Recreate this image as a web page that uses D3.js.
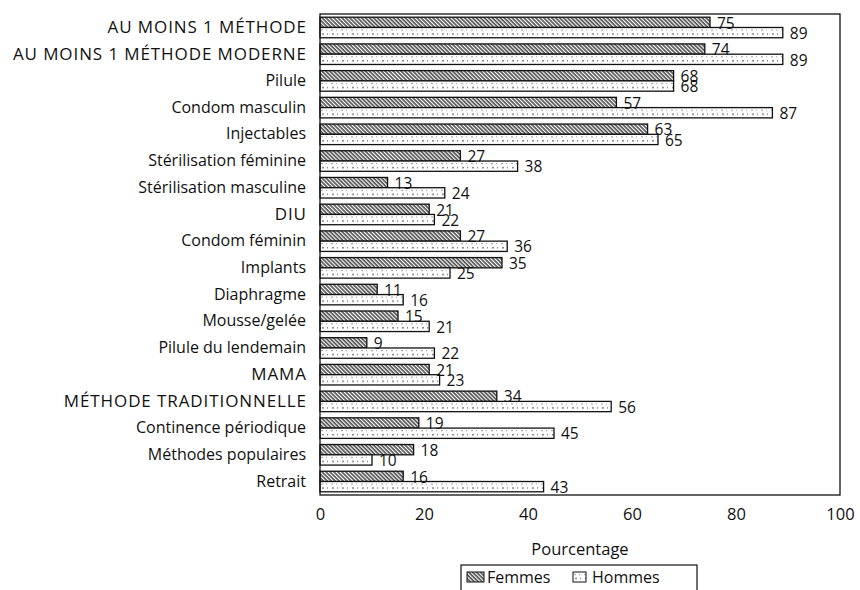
<!DOCTYPE html>
<meta charset="utf-8">
<style>
body { margin: 0; background: #fff; }
text { font-family: "Open Sans", sans-serif; fill: #111; }
</style>
<body>
<script src="https://d3js.org/d3.v7.min.js"></script>
<script>

// data
var categories = ["AU MOINS 1 MÉTHODE", "AU MOINS 1 MÉTHODE MODERNE", "Pilule", "Condom masculin",
  "Injectables", "Stérilisation féminine", "Stérilisation masculine", "DIU", "Condom féminin",
  "Implants", "Diaphragme", "Mousse/gelée", "Pilule du lendemain", "MAMA",
  "MÉTHODE TRADITIONNELLE", "Continence périodique", "Méthodes populaires", "Retrait"];
var femmes = [75, 74, 68, 57, 63, 27, 13, 21, 27, 35, 11, 15, 9, 21, 34, 19, 18, 16];
var hommes = [89, 89, 68, 87, 65, 38, 24, 22, 36, 25, 16, 21, 22, 23, 56, 45, 10, 43];
var series = ["Femmes", "Hommes"];
var xTicks = [0, 20, 40, 60, 80, 100];

var margin = {top: 14, right: 20, bottom: 95, left: 320},
    width = 860 - margin.left - margin.right,
    height = 590 - margin.top - margin.bottom;

var svg = d3.select("body").append("svg")
    .attr("width", 860)
    .attr("height", 590);

// fill patterns
var defs = svg.append("defs");
var hatch = defs.append("pattern")
    .attr("id", "hatch")
    .attr("patternUnits", "userSpaceOnUse")
    .attr("width", 2.8).attr("height", 2.8)
    .attr("patternTransform", "rotate(-45)");
hatch.append("rect").attr("width", 2.8).attr("height", 2.8).attr("fill", "#fff");
hatch.append("line").attr("x1", 1).attr("y1", 0).attr("x2", 1).attr("y2", 2.8)
    .attr("stroke", "#222").attr("stroke-width", 1.3);

var dots = defs.append("pattern")
    .attr("id", "dots")
    .attr("patternUnits", "userSpaceOnUse")
    .attr("width", 10).attr("height", 10.4);
dots.append("rect").attr("width", 10).attr("height", 10.4).attr("fill", "#fff");
dots.append("rect").attr("x", 1).attr("y", 2).attr("width", 2).attr("height", 1).attr("fill", "#999");
dots.append("rect").attr("x", 6).attr("y", 2).attr("width", 1).attr("height", 1).attr("fill", "#999");
dots.append("rect").attr("x", 2).attr("y", 6).attr("width", 2).attr("height", 1).attr("fill", "#444");
dots.append("rect").attr("x", 7).attr("y", 6).attr("width", 1).attr("height", 1).attr("fill", "#444");

var fills = {Femmes: "url(#hatch)", Hommes: "url(#dots)"};

var g = svg.append("g")
    .attr("transform", "translate(" + margin.left + "," + margin.top + ")");

var x = d3.scaleLinear().domain([0, 100]).range([0, width]);
var y = d3.scaleBand().domain(categories).range([0, height]).paddingInner(0.23).paddingOuter(0.12);
var y1 = d3.scaleBand().domain(series).range([0, y.bandwidth()]);

var rows = categories.map(function(c, i) {
  return {cat: c, values: [{s: "Femmes", v: femmes[i]}, {s: "Hommes", v: hommes[i]}]};
});

var grp = g.selectAll(".cat")
    .data(rows)
  .enter().append("g")
    .attr("class", "cat")
    .attr("transform", function(d) { return "translate(0," + y(d.cat) + ")"; });

grp.selectAll("rect")
    .data(function(d) { return d.values; })
  .enter().append("rect")
    .attr("x", 0)
    .attr("y", function(d) { return y1(d.s); })
    .attr("width", function(d) { return x(d.v); })
    .attr("height", y1.bandwidth())
    .attr("fill", function(d) { return fills[d.s]; })
    .attr("stroke", "#111")
    .attr("stroke-width", 1.3);

grp.selectAll(".val")
    .data(function(d) { return d.values; })
  .enter().append("text")
    .attr("class", "val")
    .attr("x", function(d) { return x(d.v) + 7; })
    .attr("y", function(d) { return y1(d.s) + y1.bandwidth() / 2; })
    .attr("dy", "0.4em")
    .style("font-size", "15.5px")
    .text(function(d) { return d.v; });

// frame
g.append("rect")
    .attr("width", width).attr("height", height)
    .attr("fill", "none").attr("stroke", "#111").attr("stroke-width", 1.3);

// y axis labels (capital labels are set wider, like the original typeface)
var yAxis = g.append("g")
    .call(d3.axisLeft(y).tickSize(0).tickPadding(14));
yAxis.select(".domain").remove();
yAxis.selectAll("text")
    .style("font-size", "16px")
    .style("font-family", "'Open Sans', sans-serif")
    .each(function(d) {
      if (d === d.toUpperCase()) {
        d3.select(this).style("font-size", "17px").style("letter-spacing", "0.9px").attr("dx", 0.9);
      }
    });

// x axis
var xAxis = g.append("g")
    .attr("transform", "translate(0," + height + ")")
    .call(d3.axisBottom(x).tickValues(xTicks).tickSize(0).tickPadding(13));
xAxis.select(".domain").remove();
xAxis.selectAll("text").style("font-size", "16.5px").style("font-family", "'Open Sans', sans-serif");

svg.append("text")
    .attr("x", margin.left + width / 2)
    .attr("y", 555)
    .attr("text-anchor", "middle")
    .style("font-size", "16.5px")
    .text("Pourcentage");

// legend
var leg = svg.append("g").attr("transform", "translate(461,565)");
leg.append("rect").attr("width", 236).attr("height", 30)
    .attr("fill", "none").attr("stroke", "#111").attr("stroke-width", 1.2);
var items = leg.selectAll(".item")
    .data(series)
  .enter().append("g")
    .attr("transform", function(d, i) { return "translate(" + (i === 0 ? 6 : 112) + ",7)"; });
items.append("rect")
    .attr("width", function(d, i) { return i === 0 ? 17 : 13; })
    .attr("height", 10)
    .attr("fill", function(d) { return fills[d]; })
    .attr("stroke", "#111");
items.append("text")
    .attr("x", function(d, i) { return i === 0 ? 20 : 19; })
    .attr("y", 5)
    .attr("dy", "0.38em")
    .style("font-size", "16px")
    .text(function(d) { return d; });

</script>
</body>
